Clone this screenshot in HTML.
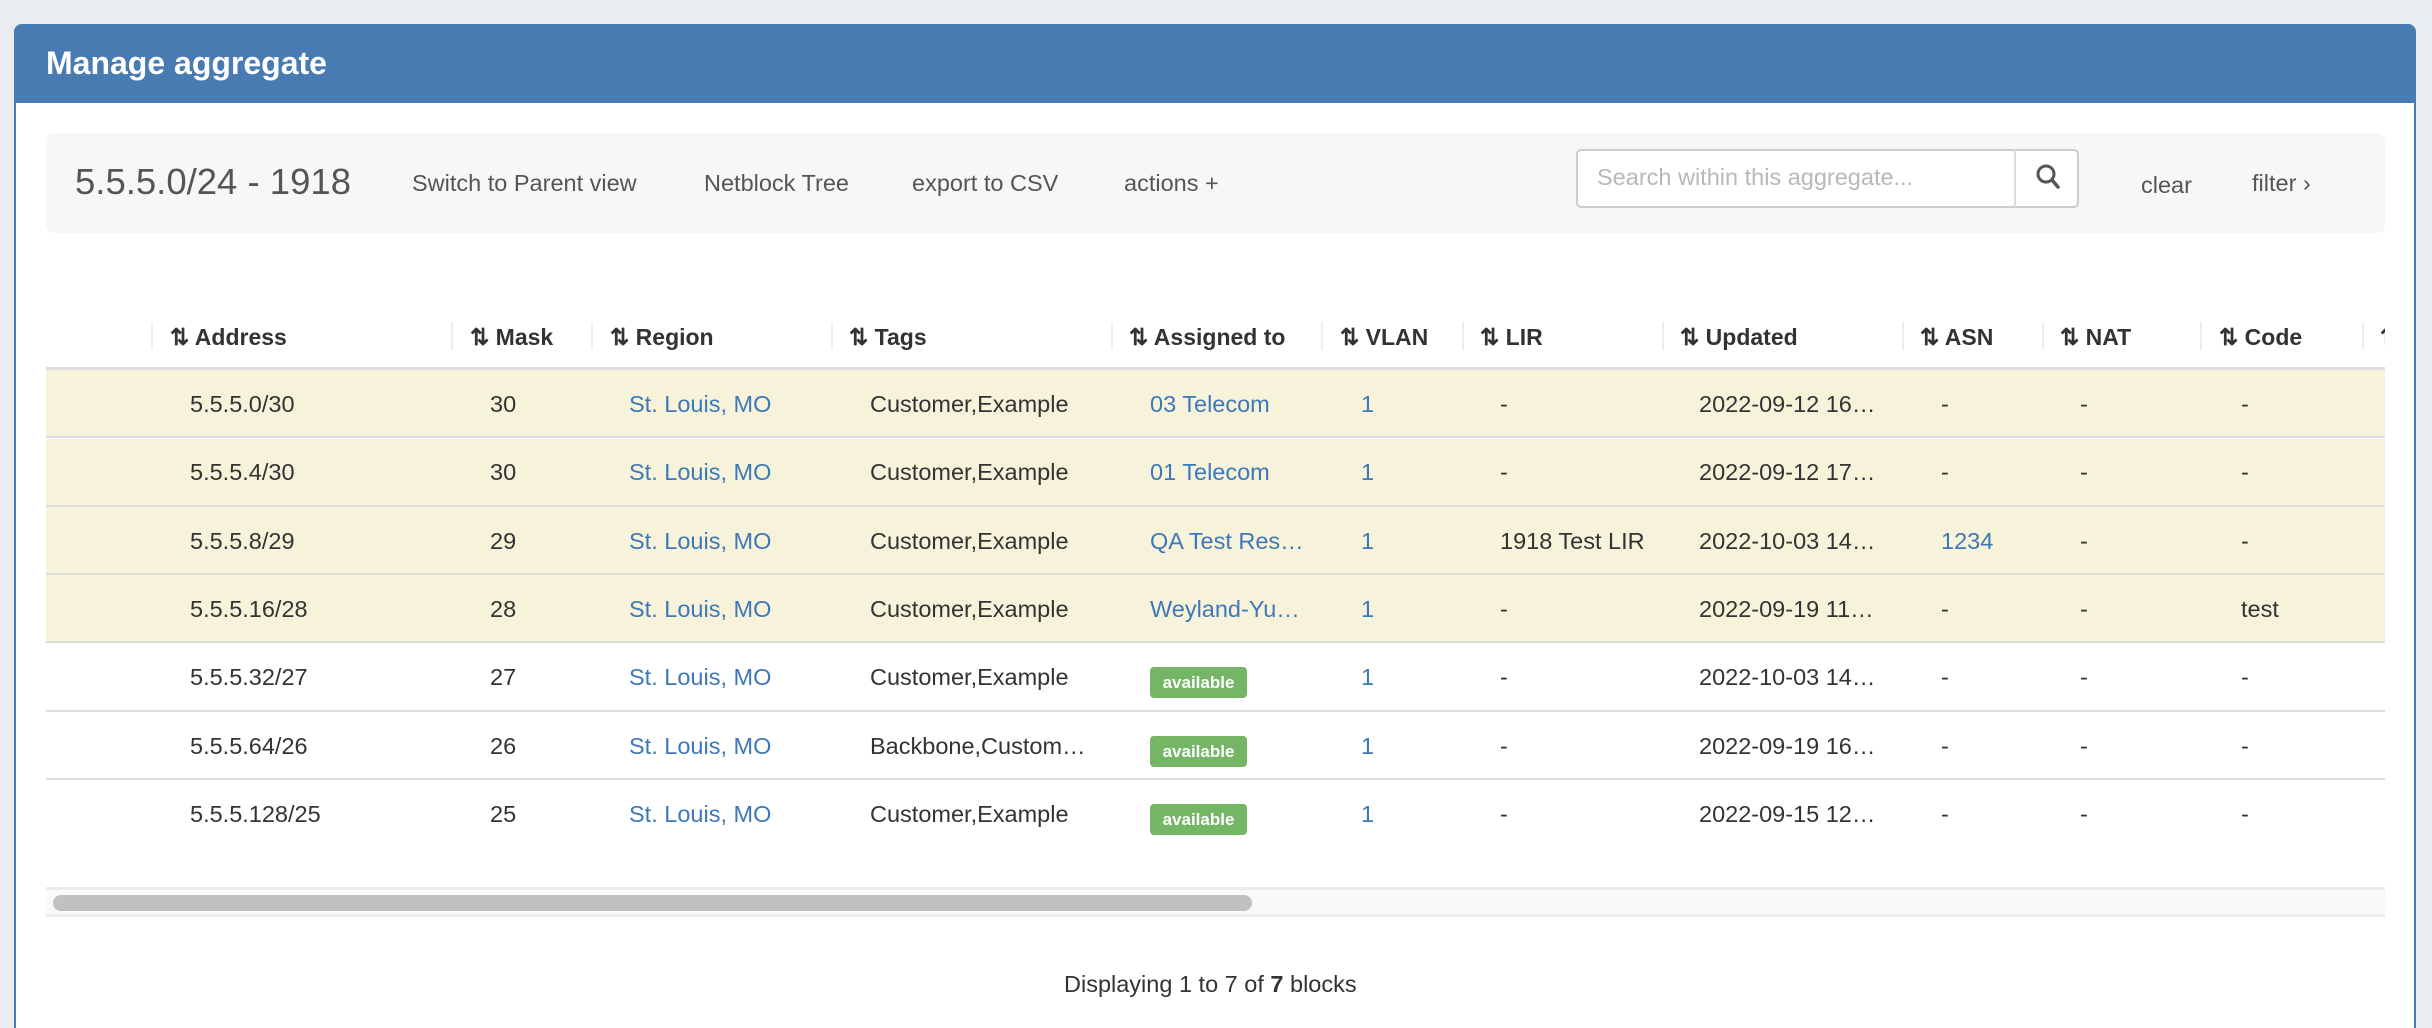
<!DOCTYPE html>
<html><head><meta charset="utf-8"><style>
*{margin:0;padding:0;box-sizing:border-box}
html,body{width:2432px;height:1028px;overflow:hidden}
body{background:#e9edf0;font-family:"Liberation Sans",Arial,sans-serif;position:relative}
.a{position:absolute;white-space:nowrap}
#panel{position:absolute;left:14px;top:24px;width:2402px;height:1004px;background:#fff;border:2px solid #477bb2;border-bottom:none;border-radius:8px 8px 0 0}
#hdr{position:absolute;left:14px;top:24px;width:2402px;height:79px;background:#477bb2;border-radius:8px 8px 0 0}
.th{font-weight:bold;font-size:23px;color:#333;top:324px}
.sep{position:absolute;top:322px;width:2px;height:28px;background:#eee}
.td{font-size:23.5px;color:#333}
.lnk{color:#3d78b8}
.row{position:absolute;left:46px;width:2339px;height:68px;border-bottom:2px solid #ddd}
.badge{position:absolute;left:1150px;width:97px;height:31px;background:#74b566;border-radius:4px;color:#fff;font-weight:bold;font-size:17px;text-align:center;line-height:31px}
.tb{font-size:23.5px;color:#555;top:170px}
</style></head><body>
<div id="panel"></div>
<div id="hdr"></div>
<div class="a" style="left:46px;top:45px;font-size:32px;font-weight:bold;color:#fff">Manage aggregate</div>

<div class="a" style="left:46px;top:133px;width:2339px;height:100px;background:#f7f7f7;border-radius:8px"></div>
<div class="a" style="left:75px;top:161px;font-size:36.5px;color:#555">5.5.5.0/24 - 1918</div>
<div class="a tb" style="left:412px">Switch to Parent view</div>
<div class="a tb" style="left:704px">Netblock Tree</div>
<div class="a tb" style="left:912px">export to CSV</div>
<div class="a tb" style="left:1124px">actions +</div>
<div class="a" style="left:1576px;top:149px;width:503px;height:59px;background:#fff;border:2px solid #ccc;border-radius:5px"></div>
<div class="a" style="left:2014px;top:150px;width:2px;height:57px;background:#ddd"></div>
<div class="a" style="left:1597px;top:164px;font-size:23.5px;color:#b8b8b8">Search within this aggregate...</div>
<svg class="a" style="left:2035px;top:163px" width="26" height="28" viewBox="0 0 26 28"><circle cx="11" cy="11" r="8" fill="none" stroke="#555" stroke-width="3"/><line x1="17" y1="17" x2="23" y2="24" stroke="#555" stroke-width="3.5" stroke-linecap="round"/></svg>
<div class="a tb" style="left:2141px;top:172px">clear</div>
<div class="a tb" style="left:2252px;top:170px">filter ›</div>

<div class="sep" style="left:151px"></div><div class="sep" style="left:451px"></div><div class="sep" style="left:591px"></div><div class="sep" style="left:831px"></div><div class="sep" style="left:1111px"></div><div class="sep" style="left:1321px"></div><div class="sep" style="left:1462px"></div><div class="sep" style="left:1662px"></div><div class="sep" style="left:1902px"></div><div class="sep" style="left:2042px"></div><div class="sep" style="left:2200px"></div><div class="sep" style="left:2362px"></div>
<div class="a th" style="left:170px">⇅ Address</div>
<div class="a th" style="left:470px">⇅ Mask</div>
<div class="a th" style="left:610px">⇅ Region</div>
<div class="a th" style="left:849px">⇅ Tags</div>
<div class="a th" style="left:1129px">⇅ Assigned to</div>
<div class="a th" style="left:1340px">⇅ VLAN</div>
<div class="a th" style="left:1480px">⇅ LIR</div>
<div class="a th" style="left:1680px">⇅ Updated</div>
<div class="a th" style="left:1920px">⇅ ASN</div>
<div class="a th" style="left:2060px">⇅ NAT</div>
<div class="a th" style="left:2219px">⇅ Code</div>
<div class="a th" style="left:2380px;width:5px;overflow:hidden">⇅</div>
<div class="a" style="left:46px;top:367px;width:2339px;height:3px;background:#ddd"></div>

<div class="row" style="top:370px;background:#f7f3da"></div>
<div class="row" style="top:439px;background:#f7f3da"></div>
<div class="row" style="top:507px;background:#f7f3da"></div>
<div class="row" style="top:575px;background:#f7f3da"></div>
<div class="row" style="top:644px"></div>
<div class="row" style="top:712px"></div>

<div id="rows"></div>
<script>
var d=[
["5.5.5.0/30","30","Customer,Example","03 Telecom","-","2022-09-12 16…","-","-"],
["5.5.5.4/30","30","Customer,Example","01 Telecom","-","2022-09-12 17…","-","-"],
["5.5.5.8/29","29","Customer,Example","QA Test Res…","1918 Test LIR","2022-10-03 14…","1234","-"],
["5.5.5.16/28","28","Customer,Example","Weyland-Yu…","-","2022-09-19 11…","-","test"],
["5.5.5.32/27","27","Customer,Example","","-","2022-10-03 14…","-","-"],
["5.5.5.64/26","26","Backbone,Custom…","","-","2022-09-19 16…","-","-"],
["5.5.5.128/25","25","Customer,Example","","-","2022-09-15 12…","-","-"]];
var h="";
d.forEach(function(r,i){var t=391+i*68.3;
function c(x,s,cl){h+='<div class="a td '+(cl||'')+'" style="left:'+x+'px;top:'+t+'px">'+s+'</div>';}
c(190,r[0]);c(490,r[1]);c(629,"St. Louis, MO","lnk");c(870,r[2]);
if(r[3])c(1150,r[3],"lnk");else h+='<div class="badge" style="top:'+(t+3)+'px">available</div>';
c(1361,"1","lnk");c(1500,r[4]);c(1699,r[5]);c(1941,r[6],r[6]=="1234"?"lnk":"");c(2080,"-");c(2241,r[7]);});
document.getElementById("rows").innerHTML=h;
</script>

<div class="a" style="left:46px;top:887px;width:2339px;height:30px;background:#f9f9f9;border-top:3px solid #ebebeb;border-bottom:3px solid #ebebeb"></div>
<div class="a" style="left:53px;top:895px;width:1199px;height:16px;background:#c1c1c1;border-radius:8px"></div>
<div class="a" style="left:1064px;top:971px;font-size:23.5px;color:#333">Displaying 1 to 7 of <b>7</b> blocks</div>
</body></html>
